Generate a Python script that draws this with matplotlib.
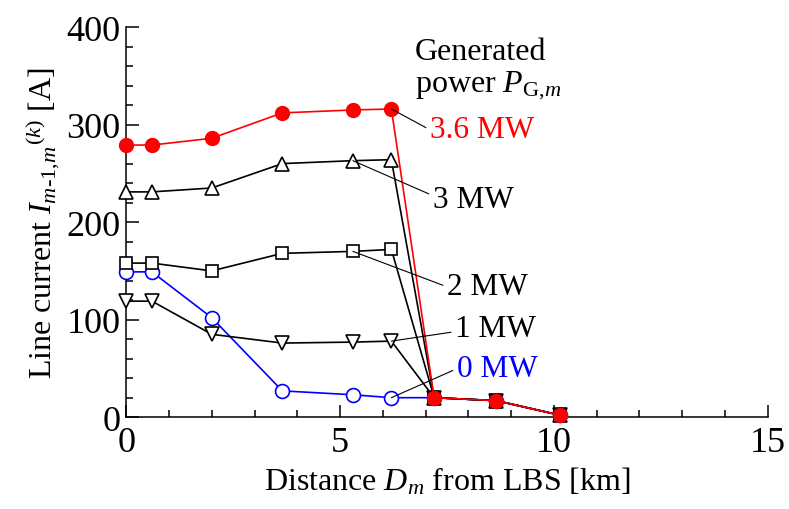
import matplotlib
matplotlib.use("Agg")
import matplotlib.pyplot as plt
from matplotlib.ticker import MultipleLocator

plt.rcParams['font.family'] = 'Liberation Serif'
plt.rcParams['mathtext.fontset'] = 'custom'
plt.rcParams['mathtext.rm'] = 'Liberation Serif'
plt.rcParams['mathtext.it'] = 'Liberation Serif:italic'

# distance from LBS [km]
dist = [0.0, 0.6, 2.0, 3.65, 5.3, 6.2, 7.2, 8.65, 10.15]

# line current [A] for each generated power
cur_0mw = [149, 149, 102, 27, 23, 20, 20, 17, 2]
cur_1mw = [119, 119, 85, 76, 77, 78, 20, 17, 2]
cur_2mw = [158, 158, 150, 168, 170, 172, 20, 17, 2]
cur_3mw = [231, 231, 235, 260, 263, 264, 20, 17, 2]
cur_36mw = [279, 279, 286, 312, 315, 316, 20, 17, 2]

labels = ['0 MW', '1 MW', '2 MW', '3 MW', '3.6 MW']

fig = plt.figure(figsize=(7.89, 5.10), dpi=100)
ax = fig.add_axes([0.16, 0.18, 0.813, 0.765])

lw = 1.2
ax.plot(dist, cur_0mw, '-o', color='blue', mfc='white', mec='blue', ms=10, mew=1.2, lw=lw, clip_on=False, zorder=3)
ax.plot(dist, cur_1mw, '-v', color='black', mfc='white', mec='black', ms=10, mew=1.2, lw=lw, clip_on=False, zorder=4)
ax.plot(dist, cur_2mw, '-s', color='black', mfc='white', mec='black', ms=9, mew=1.2, lw=lw, clip_on=False, zorder=5)
ax.plot(dist, cur_3mw, '-^', color='black', mfc='white', mec='black', ms=10, mew=1.2, lw=lw, clip_on=False, zorder=6)
ax.plot(dist, cur_36mw, '-o', color='red', mfc='red', mec='red', ms=10, lw=lw, clip_on=False, zorder=7)

# labels with leader lines: (text, point xy, text xy, colour, relpos y)
notes = [
    (labels[4], (dist[5], cur_36mw[5]), (7.10, 287), 'red', 0.5),
    (labels[3], (dist[4], cur_3mw[4]), (7.17, 215), 'black', 0.65),
    (labels[2], (dist[4], cur_2mw[4]), (7.50, 126), 'black', 0.5),
    (labels[1], (dist[5], cur_1mw[5]), (7.69, 83), 'black', 0.4),
    (labels[0], (dist[5], cur_0mw[5]), (7.73, 42), 'blue', 0.5),
]
for txt, xy, xyt, c, ry in notes:
    ax.annotate(txt, xy=xy, xytext=xyt, color=c, fontsize=22.5,
                ha='left', va='baseline',
                arrowprops=dict(arrowstyle='-', color='black', lw=0.8,
                                shrinkA=1, shrinkB=0, relpos=(0, ry)),
                zorder=8)

ax.text(6.75, 367, 'Generated', fontsize=23, ha='left', va='baseline')
ax.text(6.75, 334, r'power $P_{\mathrm{G},\!m}$', fontsize=23, ha='left', va='baseline')

ax.set_xlim(0, 15)
ax.set_ylim(0, 400)
ax.xaxis.set_major_locator(MultipleLocator(5))
ax.xaxis.set_minor_locator(MultipleLocator(1))
ax.yaxis.set_major_locator(MultipleLocator(100))
ax.yaxis.set_minor_locator(MultipleLocator(20))
ax.tick_params(which='both', direction='in', labelsize=26, width=1.1)
ax.tick_params(which='major', length=9, pad=6)
ax.tick_params(which='minor', length=5)
ax.tick_params(axis='y', pad=4)
for s in ['top', 'right']:
    ax.spines[s].set_visible(False)
for s in ['left', 'bottom']:
    ax.spines[s].set_linewidth(1.1)

ax.set_xlabel(r'Distance $D_m$ from LBS [km]', fontsize=23, labelpad=5)
ax.set_ylabel(r'Line current $I_{m\text{-}1,\!m}{}^{(k)}$ [A]', fontsize=23, labelpad=4)

fig.savefig('out.png', dpi=100)
